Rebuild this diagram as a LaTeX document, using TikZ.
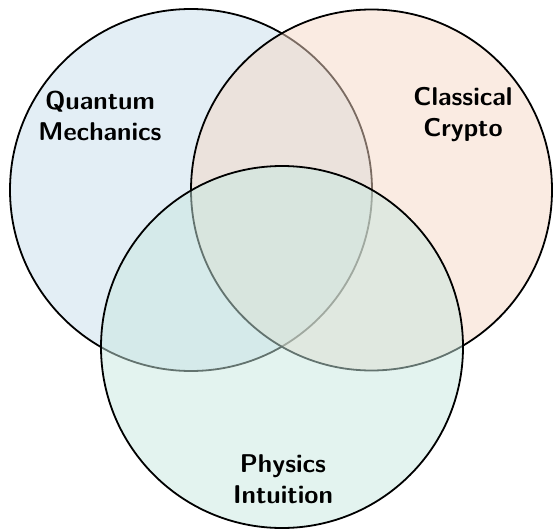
\documentclass[tikz,border=0pt]{standalone}
\usepackage{fontspec}
\definecolor{qmfill}{RGB}{199,221,235}
\definecolor{ccfill}{RGB}{245,215,197}
\definecolor{pifill}{RGB}{199,231,223}
\tikzset{
  venn/.style={draw=black, line width=1.8bp, fill opacity=0.5},
  vlabel/.style={align=center, text=black, font=\sffamily\bfseries\fontsize{25.8}{31}\selectfont}
}
\begin{document}
\begin{tikzpicture}[x=1bp,y=-1bp]
\useasboundingbox (0,0) rectangle (553,530);
\path[venn, fill=qmfill] (191,190) circle [radius=181bp];
\path[venn, fill=ccfill] (371.5,190) circle [radius=180.5bp];
\path[venn, fill=pifill] (282,347) circle [radius=181bp];
\node[vlabel] (qm) at (100,116) {Quantum\\Mechanics};
\node[vlabel] (cc) at (463,115) {Classical\\Crypto};
\node[vlabel] (pi) at (283,479) {Physics\\Intuition};
\end{tikzpicture}
\end{document}
